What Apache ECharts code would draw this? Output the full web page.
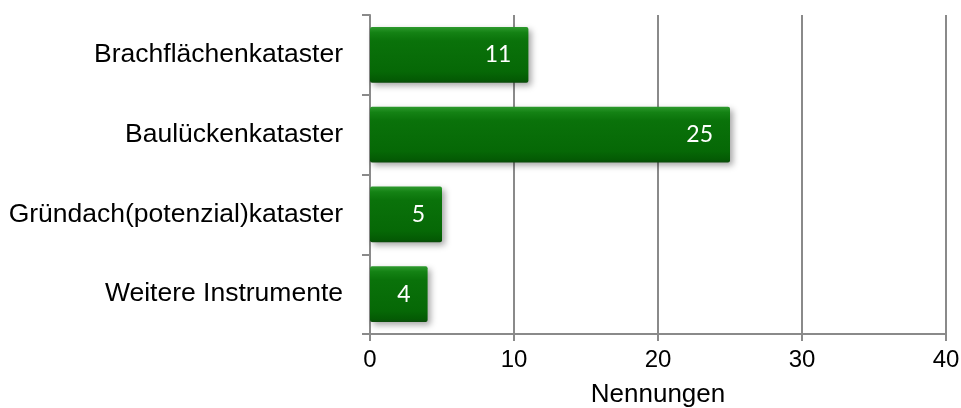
<!DOCTYPE html>
<html>
<head>
<meta charset="utf-8">
<script src="https://cdn.jsdelivr.net/npm/echarts@6/dist/echarts.min.js"></script>
<style>
html,body{margin:0;padding:0;background:#fff;}
#chart{width:961px;height:408px;}
</style>
</head>
<body>
<div id="chart"></div>
<script>
const categories = ["Brachflächenkataster", "Baulückenkataster", "Gründach(potenzial)kataster", "Weitere Instrumente"];
const values = [11, 25, 5, 4];
const xTicks = { min: 0, max: 40, interval: 10 };
const axisTitle = "Nennungen";

const chart = echarts.init(document.getElementById('chart'), null, { renderer: 'canvas' });
const gray = '#8a8a8a';
chart.setOption({
  animation: false,
  backgroundColor: '#ffffff',
  grid: { left: 370, right: 15, top: 15, bottom: 74, containLabel: false, outerBoundsMode: 'none' },
  xAxis: {
    type: 'value',
    min: xTicks.min, max: xTicks.max, interval: xTicks.interval,
    name: axisTitle,
    nameLocation: 'middle',
    nameGap: 48,
    nameTextStyle: { fontFamily: 'Liberation Sans, Arial', fontSize: 26, color: '#000' },
    axisLine: { show: true, lineStyle: { color: gray, width: 2 } },
    axisTick: { show: true, length: 7, lineStyle: { color: gray, width: 2 } },
    axisLabel: { fontFamily: 'Liberation Sans, Arial', fontSize: 24, color: '#000', margin: 14 },
    splitLine: { show: true, lineStyle: { color: gray, width: 2 } }
  },
  yAxis: {
    type: 'category',
    data: categories,
    inverse: true,
    axisLine: { show: true, lineStyle: { color: gray, width: 2 } },
    axisTick: { show: true, length: 8, lineStyle: { color: gray, width: 2 } },
    axisLabel: { fontFamily: 'Liberation Sans, Arial', fontSize: 26.5, color: '#000', margin: 27 },
    splitLine: { show: false }
  },
  series: [{
    type: 'bar',
    data: values,
    barCategoryGap: '30%',
    itemStyle: {
      borderRadius: 2,
      color: new echarts.graphic.LinearGradient(0, 0, 0, 1, [
        { offset: 0, color: '#2e9a2e' },
        { offset: 0.1, color: '#148214' },
        { offset: 0.25, color: '#0a720a' },
        { offset: 0.8, color: '#066806' },
        { offset: 0.95, color: '#045a04' },
        { offset: 1, color: '#0c4a0c' }
      ]),
      shadowColor: 'rgba(0,0,0,0.35)',
      shadowBlur: 6,
      shadowOffsetX: 3,
      shadowOffsetY: 3
    },
    label: {
      show: true,
      position: 'insideRight',
      distance: 17,
      color: '#ffffff',
      fontFamily: 'Lato, Open Sans, sans-serif',
      fontSize: 23
    }
  }]
});
</script>
</body>
</html>
